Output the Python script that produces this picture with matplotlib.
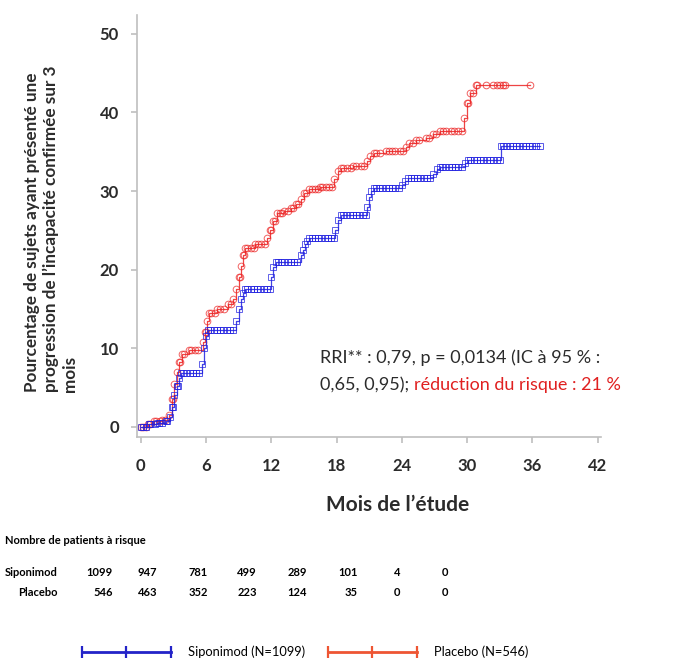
import numpy as np
import matplotlib
matplotlib.use("Agg")
import matplotlib.pyplot as plt
from matplotlib.lines import Line2D

plt.rcParams["font.family"] = ["Lato", "DejaVu Sans"]

# Kaplan-Meier style cumulative curves (months, % with confirmed progression)
blue_t = [0, 0.8, 1.5, 2.3, 2.7, 2.9, 3.1, 3.3, 3.5, 3.7, 5.6, 5.8, 6.0, 6.2,
          8.8, 9.0, 9.2, 9.4, 9.6, 12.0, 12.2, 12.4, 14.7, 14.9, 15.1, 15.3, 15.5,
          17.9, 18.1, 18.4, 20.8, 21.0, 21.2, 21.4, 24.0, 24.3, 24.6, 26.9, 27.2,
          27.5, 29.8, 30.1, 33.1]
blue_y = [0, 0.3, 0.5, 0.7, 1.2, 2.5, 4.0, 5.2, 6.2, 6.8, 8.0, 10.0, 11.5, 12.3,
          13.5, 15.0, 16.2, 17.0, 17.5, 19.0, 20.3, 21.0, 21.8, 22.5, 23.2, 23.7, 24.0,
          25.0, 26.3, 27.0, 28.0, 29.2, 30.0, 30.4, 30.8, 31.3, 31.6, 32.2, 32.8,
          33.1, 33.6, 34.0, 35.7]
blue_end = 36.7
blue_cens = [0.2, 0.5, 0.9, 1.3, 1.7, 2.0, 2.4, 3.0, 3.4, 3.9, 4.2, 4.5, 4.8, 5.1, 5.4,
             6.4, 6.7, 7.0, 7.3, 7.6, 7.9, 8.2, 8.5, 9.8, 10.1, 10.4, 10.7, 11.0, 11.3,
             11.6, 11.9, 12.6, 12.9, 13.2, 13.5, 13.8, 14.1, 14.4, 15.7, 16.0, 16.3,
             16.6, 16.9, 17.2, 17.5, 17.8, 18.6, 18.9, 19.2, 19.5, 19.8, 20.1, 20.4,
             20.7, 21.6, 21.9, 22.2, 22.5, 22.8, 23.1, 23.4, 23.7, 24.8, 25.1, 25.4,
             25.7, 26.0, 26.3, 26.6, 27.7, 28.0, 28.3, 28.6, 28.9, 29.2, 29.5, 30.3,
             30.6, 30.9, 31.2, 31.5, 31.8, 32.1, 32.4, 32.7, 33.0, 33.3, 33.6, 33.9,
             34.2, 34.5, 34.8, 35.1, 35.4, 35.7, 36.0, 36.3, 36.7]

red_t = [0, 0.7, 1.2, 2.0, 2.6, 2.9, 3.1, 3.3, 3.5, 3.8, 4.4, 5.7, 5.9, 6.1, 6.3,
         7.0, 8.0, 8.5, 8.8, 9.0, 9.2, 9.4, 9.6, 10.5, 11.6, 11.9, 12.2, 12.5, 13.2,
         13.8, 14.3, 14.7, 15.0, 15.5, 16.5, 17.8, 18.1, 18.4, 19.5, 20.8, 21.1, 21.4,
         22.5, 24.4, 24.7, 25.3, 26.2, 26.9, 27.5, 29.7, 30.0, 30.3, 30.8]
red_y = [0, 0.4, 0.7, 0.9, 1.5, 3.5, 5.5, 7.0, 8.2, 9.2, 9.8, 10.8, 12.0, 13.5, 14.5,
         15.0, 15.6, 16.2, 17.5, 19.0, 20.5, 21.8, 22.7, 23.2, 24.0, 25.0, 26.2, 27.2,
         27.5, 27.8, 28.3, 29.0, 29.7, 30.2, 30.5, 31.5, 32.5, 32.9, 33.2, 33.8, 34.4,
         34.9, 35.1, 35.6, 36.1, 36.5, 36.8, 37.2, 37.7, 39.3, 41.2, 42.5, 43.5]
red_end = 35.8
red_cens = [0.2, 0.5, 0.9, 1.4, 1.8, 2.2, 3.0, 3.6, 4.0, 4.6, 5.0, 5.3, 6.0, 6.5, 6.8,
            7.3, 7.7, 8.3, 9.1, 9.5, 9.8, 10.1, 10.4, 10.8, 11.1, 11.4, 12.0, 12.3,
            12.8, 13.0, 13.5, 14.0, 14.5, 15.2, 15.7, 16.0, 16.3, 16.7, 17.0, 17.3,
            17.6, 18.6, 19.0, 19.3, 19.8, 20.2, 20.5, 21.6, 22.0, 22.8, 23.1, 23.4,
            23.8, 24.1, 25.0, 25.6, 26.5, 27.1, 27.8, 28.1, 28.5, 28.8, 29.2, 29.5,
            30.1, 30.5, 30.9, 31.7, 32.4, 32.7, 33.0, 33.3, 33.5, 35.8]

x_ticks = [0, 6, 12, 18, 24, 30, 36, 42]
y_ticks = [0, 10, 20, 30, 40, 50]

risk_groups = ["Siponimod", "Placebo"]
risk_sipo = [1099, 947, 781, 499, 289, 101, 4, 0]
risk_plac = [546, 463, 352, 223, 124, 35, 0, 0]

BLUE = "#1f1fe0"
RED = "#ec2323"
TXT = "#2b2b2b"


def step_at(t, ts, ys):
    idx = np.searchsorted(ts, t, side="right") - 1
    return np.asarray(ys)[idx]


fig = plt.figure(figsize=(6.94, 6.62), dpi=100)
ax = fig.add_axes([137 / 694, 1 - 437 / 662, (601 - 137) / 694, (437 - 15) / 662])

for ts, ys, end, cens, col, mk in [(red_t, red_y, red_end, red_cens, RED, "o"),
                                   (blue_t, blue_y, blue_end, blue_cens, BLUE, "s")]:
    ax.step(ts + [end], ys + [ys[-1]], where="post", color=col, lw=0.9, alpha=0.85)
    ax.plot(ts, ys, ls="none", marker=mk, ms=4.8, mfc="none", mec=col, mew=0.7, alpha=0.7)
    cy = step_at(np.array(cens), np.array(ts), ys)
    ax.plot(cens, cy, ls="none", marker=mk, ms=4.8, mfc="none", mec=col, mew=0.7, alpha=0.75)

ax.set_xlim(-0.34, 42.3)
ax.set_ylim(-1.3, 52.4)
ax.set_xticks(x_ticks)
ax.set_yticks(y_ticks)
for s in ["top", "right"]:
    ax.spines[s].set_visible(False)
for s in ["left", "bottom"]:
    ax.spines[s].set_color("#bfbfbf")
    ax.spines[s].set_linewidth(1.2)
ax.tick_params(axis="both", colors="#bfbfbf", length=4, width=1.2, labelcolor=TXT, labelsize=12)
ax.tick_params(axis="y", pad=9)
ax.tick_params(axis="x", pad=11)
for lab in ax.get_xticklabels() + ax.get_yticklabels():
    lab.set_fontweight("bold")

# axis titles
fig.text(24 / 694, 1 - 392 / 662,
         "Pourcentage de sujets ayant présenté une\nprogression de l\u2019incapacité confirmée sur 3\nmois",
         rotation=90, ha="left", va="top", fontsize=12.3, fontweight="bold",
         color=TXT, linespacing=1.2, rotation_mode="anchor")
fig.text(398 / 694, 1 - 505 / 662, "Mois de l\u2019étude", ha="center", va="center",
         fontsize=15, fontweight="bold", color=TXT)

# hazard ratio annotation
fig.text(320 / 694, 1 - 363 / 662, "RRI** : 0,79, p = 0,0134 (IC à 95 % :",
         ha="left", va="baseline", fontsize=13, color=TXT)
t2 = fig.text(320 / 694, 1 - 390 / 662, "0,65, 0,95); ",
              ha="left", va="baseline", fontsize=13, color=TXT)
fig.canvas.draw()
ext = t2.get_window_extent()
fig.text(ext.x1 / fig.bbox.width, 1 - 390 / 662, "réduction du risque : 21 %",
         ha="left", va="baseline", fontsize=13, color="#e02020")

# number at risk table
fig.text(5 / 694, 1 - 540 / 662, "Nombre de patients à risque", ha="left", va="center",
         fontsize=8, fontweight="bold", color="black")
col_right = [113, 157, 208, 257, 307, 358, 400, 448]
for row_y, name, vals in [(572, risk_groups[0], risk_sipo), (592, risk_groups[1], risk_plac)]:
    fig.text(58 / 694, 1 - row_y / 662, name, ha="right", va="center",
             fontsize=8, fontweight="bold", color="black")
    for xr, v in zip(col_right, vals):
        fig.text(xr / 694, 1 - row_y / 662, str(v), ha="right", va="center",
                 fontsize=8, fontweight="bold", color="black")

# legend
handles = [Line2D([], [], color="#2323c8", lw=2, marker="|", ms=9, mew=1.6),
           Line2D([], [], color="#ee5533", lw=2, marker="|", ms=9, mew=1.6)]
fig.legend(handles, ["Siponimod (N=1099)", "Placebo (N=546)"], loc="center",
           bbox_to_anchor=(303 / 694, 1 - 652 / 662), ncol=2, frameon=False,
           numpoints=3, handlelength=7.5, handletextpad=1.0, columnspacing=1.5,
           prop={"size": 9.3})

fig.savefig("out.png", dpi=100)
